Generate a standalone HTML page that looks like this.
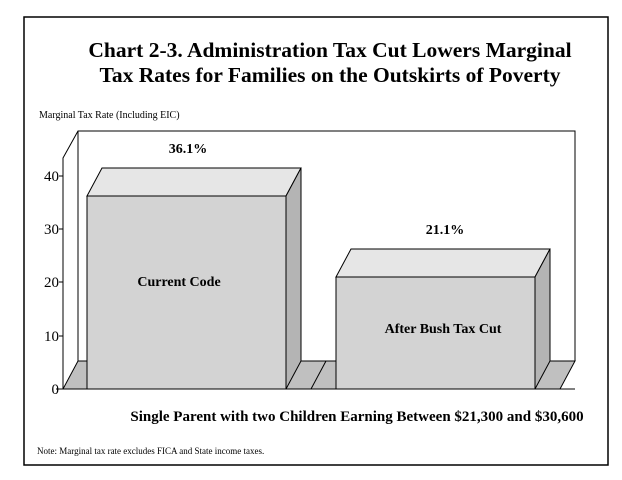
<!DOCTYPE html>
<html><head><meta charset="utf-8"><style>
body{margin:0;background:#fff;width:622px;height:480px;overflow:hidden}
svg{display:block;font-family:"Liberation Serif",serif}
</style></head><body>
<svg width="622" height="480" viewBox="0 0 622 480">
<rect x="24" y="17" width="584" height="448" fill="#fff" stroke="#000" stroke-width="1.5"/>
<text x="330" y="57" text-anchor="middle" font-size="21.5" font-weight="bold">Chart 2-3. Administration Tax Cut Lowers Marginal</text>
<text x="330" y="82" text-anchor="middle" font-size="21.5" font-weight="bold">Tax Rates for Families on the Outskirts of Poverty</text>
<text x="39" y="118" font-size="10">Marginal Tax Rate (Including EIC)</text>
<polyline points="63,389 63,158 78,131 575,131 575,361" fill="none" stroke="#000" stroke-width="1"/>
<line x1="78" y1="131" x2="78" y2="361" stroke="#000"/>
<polygon points="63,389 560,389 575,361 78,361" fill="#c0c0c0" stroke="#000"/>
<line x1="311" y1="389" x2="326" y2="361" stroke="#000"/>
<line x1="56" y1="389" x2="575" y2="389" stroke="#000"/>
<g stroke="#000"><line x1="59" y1="389" x2="63" y2="389"/><line x1="59" y1="336" x2="63" y2="336"/><line x1="59" y1="282" x2="63" y2="282"/><line x1="59" y1="229" x2="63" y2="229"/><line x1="59" y1="176" x2="63" y2="176"/></g>
<g font-size="15" text-anchor="end"><text x="59" y="394">0</text><text x="59" y="341">10</text><text x="59" y="287">20</text><text x="59" y="234">30</text><text x="59" y="181">40</text></g>
<polygon points="87,196 102,168 301,168 286,196" fill="#e6e6e6" stroke="#000"/>
<polygon points="286,196 301,168 301,361 286,389" fill="#b4b4b4" stroke="#000"/>
<rect x="87" y="196" width="199" height="193" fill="#d3d3d3" stroke="#000"/>
<polygon points="336,277 351,249 550,249 535,277" fill="#e6e6e6" stroke="#000"/>
<polygon points="535,277 550,249 550,361 535,389" fill="#b4b4b4" stroke="#000"/>
<rect x="336" y="277" width="199" height="112" fill="#d3d3d3" stroke="#000"/>
<g font-weight="bold" font-size="14" text-anchor="middle">
<text x="188" y="153">36.1%</text>
<text x="445" y="234">21.1%</text>
<text x="179" y="286">Current Code</text>
<text x="443" y="333">After Bush Tax Cut</text>
</g>
<text x="357" y="421" text-anchor="middle" font-size="15" font-weight="bold">Single Parent with two Children Earning Between $21,300 and $30,600</text>
<text x="37" y="454" font-size="9">Note:  Marginal tax rate excludes FICA and State income taxes.</text>
</svg>
</body></html>
